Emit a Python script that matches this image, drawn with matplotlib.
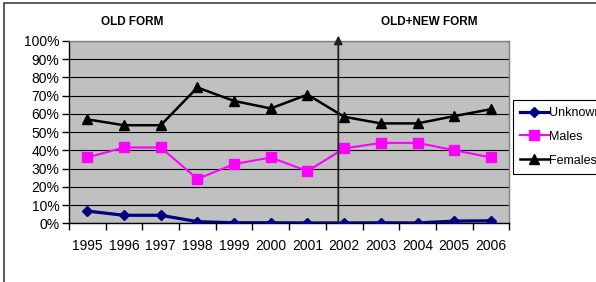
import numpy as np
import matplotlib.pyplot as plt
from matplotlib.patches import Rectangle

plt.rcParams['font.family'] = ['Liberation Sans', 'DejaVu Sans']

years = ['1995', '1996', '1997', '1998', '1999', '2000',
         '2001', '2002', '2003', '2004', '2005', '2006']
unknown = [0.067, 0.044, 0.044, 0.009, 0.003, 0.003, 0.002, 0.002, 0.003, 0.002, 0.012, 0.014]
males = [0.361, 0.416, 0.416, 0.243, 0.325, 0.361, 0.286, 0.411, 0.441, 0.441, 0.401, 0.361]
females = [0.570, 0.538, 0.538, 0.745, 0.671, 0.630, 0.706, 0.584, 0.548, 0.548, 0.588, 0.626]

fig = plt.figure(figsize=(5.96, 2.82), dpi=100)
ax = fig.add_axes([69 / 596, 1 - 223.3 / 282, 440.3 / 596, 182.3 / 282])
ax.set_facecolor('#C0C0C0')

x = np.arange(len(years))
ax.plot(x, unknown, color='#000080', lw=2.3, marker='D', ms=5, label='Unknown', zorder=3)
ax.plot(x, males, color='#FF00FF', lw=1.5, marker='s', ms=7, label='Males', zorder=3)
ax.plot(x, females, color='black', lw=1.8, marker='^', ms=7, label='Females', zorder=3)

ax.set_xlim(-0.5, len(years) - 0.5)
ax.set_ylim(0, 1)
ax.set_yticks(np.arange(0, 1.01, 0.1))
ax.set_yticklabels(['%d%%' % round(v * 100) for v in np.arange(0, 1.01, 0.1)])
ax.set_xticks(x)
ax.set_xticklabels(years)
ax.set_xticks(np.arange(-0.5, len(years), 1), minor=True)
ax.tick_params(axis='x', which='major', length=0, pad=11, labelsize=10)
ax.tick_params(axis='x', which='minor', length=5, width=1, direction='out')
ax.tick_params(axis='y', length=5, width=1, direction='out', labelsize=10, pad=2)
ax.yaxis.grid(True, color='black', lw=0.8)
ax.set_axisbelow(True)

ax.spines['left'].set_color('black')
ax.spines['bottom'].set_color('black')
ax.spines['top'].set_color('#808080')
ax.spines['right'].set_color('#808080')
for s in ax.spines.values():
    s.set_linewidth(1)

# divider between old and new form
ax.annotate('', xy=(6.84, 1.03), xytext=(6.84, 0), xycoords='data',
            arrowprops=dict(arrowstyle='-|>,head_length=0.5,head_width=0.25',
                            color='#202020', lw=1.3, mutation_scale=10,
                            shrinkA=0, shrinkB=0), annotation_clip=False, zorder=4)

fig.text(132 / 596, 1 - 22 / 282, 'OLD FORM', ha='center', va='center',
         fontsize=8.5, fontweight='bold')
fig.text(429 / 596, 1 - 22 / 282, 'OLD+NEW FORM', ha='center', va='center',
         fontsize=8.5, fontweight='bold')

fig.patches.append(Rectangle((4 / 596, -0.2), 1.3, 1.2 - 2.5 / 282, transform=fig.transFigure,
                             fill=False, edgecolor='#404040', lw=1.2))

leg = fig.legend(loc='upper left', bbox_to_anchor=(513 / 596, 1 - 100 / 282),
                 borderaxespad=0, fontsize=9, frameon=True, fancybox=False,
                 edgecolor='black', framealpha=1, handlelength=2.3,
                 handletextpad=0.0, labelspacing=0.95, borderpad=0.55)
leg.get_frame().set_linewidth(0.8)

fig.savefig('out.png', dpi=100)
